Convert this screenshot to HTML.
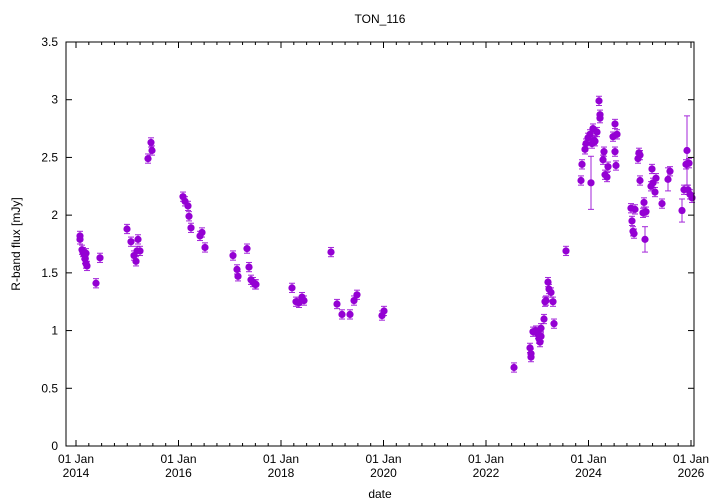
<!DOCTYPE html>
<html><head><meta charset="utf-8"><style>
body{margin:0;background:#fff;}
svg{display:block;font-family:"Liberation Sans",sans-serif;}
</style></head><body>
<svg id="s" width="720" height="504" xmlns="http://www.w3.org/2000/svg">
<rect width="720" height="504" fill="#fff"/>
<text x="380" y="23" font-size="12" text-anchor="middle">TON_116</text>
<text x="380" y="498" font-size="12" text-anchor="middle">date</text>
<text transform="translate(20,244) rotate(-90)" font-size="12" text-anchor="middle">R-band flux [mJy]</text>
<g id="ax"></g>
<g id="pts"></g>
<rect x="66" y="42" width="628" height="404" fill="none" stroke="#000" stroke-width="1"/>
</svg>
<script>
var ax=document.getElementById('ax'),pts=document.getElementById('pts'),h='';
var L=66,R=694,T=42,B=446;
function Y(v){return B-v*(B-T)/3.5;}
for(var i=0;i<=7;i++){var v=i*0.5,y=Y(v);
h+='<line x1="'+L+'" x2="'+(L+6)+'" y1="'+y+'" y2="'+y+'" stroke="#000"/>';
h+='<line x1="'+R+'" x2="'+(R-6)+'" y1="'+y+'" y2="'+y+'" stroke="#000"/>';
h+='<text x="'+(L-8)+'" y="'+(y+4)+'" font-size="12" text-anchor="end">'+(i==0?'0':(v%1==0?v:v.toFixed(1)))+'</text>';}
var x0=76,py=51.25;
for(var q=0;q<=48;q++){var x=x0+q*py/4,big=q%8==0,l=big?6:3;
h+='<line x1="'+x+'" x2="'+x+'" y1="'+B+'" y2="'+(B-l)+'" stroke="#000"/>';
h+='<line x1="'+x+'" x2="'+x+'" y1="'+T+'" y2="'+(T+l)+'" stroke="#000"/>';
if(big){h+='<text x="'+x+'" y="463" font-size="12" text-anchor="middle">01 Jan</text><text x="'+x+'" y="477" font-size="12" text-anchor="middle">'+(2014+q/4)+'</text>';}}
ax.innerHTML=h;
var d=[[80,1.82],[80,1.79],[82,1.70],[83,1.68],[84,1.66],[85,1.65],[86,1.67],[85,1.62],[86,1.58],[87,1.56],[96,1.41],[100,1.63],
[127,1.88],[131,1.77],[134,1.65],[136,1.60],[137,1.69],[138,1.79],[140,1.69],
[148,2.49],[151,2.63],[152,2.56],
[183,2.16],[185,2.12],[188,2.08],[189,1.99],[191,1.89],[200,1.82],[202,1.85],[205,1.72],
[233,1.65],[237,1.53],[238,1.47],[247,1.71],[249,1.55],[251,1.44],[253,1.42],[255,1.40],[256,1.40],
[292,1.37],[296,1.25],[299,1.24],[302,1.29],[304,1.26],
[331,1.68],[337,1.23],[342,1.14],[350,1.14],[354,1.26],[357,1.31],[382,1.13],[384,1.17],
[514,0.68],[530,0.85],[531,0.80],[531,0.77],[533,0.99],[536,1.00],[538,0.97],[539,0.93],[540,0.90],[541,0.95],[541,1.02],[544,1.10],[545,1.25],[546,1.26],[548,1.42],[549,1.36],[551,1.33],[553,1.25],[554,1.06],[566,1.69],
[581,2.30],[582,2.44],[585,2.57],[586,2.62],[588,2.67],[590,2.70],[591,2.28,0.23],[592,2.62],[593,2.75],[594,2.65],[595,2.64],[597,2.72],[599,2.99],[600,2.87],[600,2.84],[603,2.48],[604,2.55],[605,2.35],[607,2.33],[608,2.42],[613,2.68],[615,2.79],[615,2.55],[616,2.43],[617,2.70],
[631,2.06],[632,1.95],[633,1.86],[634,1.84],[635,2.05],[638,2.49],[639,2.54],[640,2.52],[640,2.30],[643,2.02],[644,2.11],[645,1.79,0.11],[646,2.03],[651,2.25],[652,2.40],[653,2.28],[655,2.20],[656,2.32],[662,2.10],[668,2.31,0.1],[670,2.38],[682,2.04,0.1],[684,2.22],[686,2.44],[687,2.56,0.3],[689,2.45],[688,2.22],[690,2.18],[692,2.15]];
var p='';
d.forEach(function(a){var x=a[0],y=Y(a[1]),e=(a[2]||0.04)*(B-T)/3.5;
p+='<g stroke="#9400d3" stroke-width="1" opacity="0.85"><line x1="'+x+'" x2="'+x+'" y1="'+(y-e)+'" y2="'+(y+e)+'"/><line x1="'+(x-3)+'" x2="'+(x+3)+'" y1="'+(y-e)+'" y2="'+(y-e)+'"/><line x1="'+(x-3)+'" x2="'+(x+3)+'" y1="'+(y+e)+'" y2="'+(y+e)+'"/></g>';
p+='<circle cx="'+x+'" cy="'+y+'" r="3.6" fill="#9400d3"/>';});
pts.innerHTML=p;
</script>
</body></html>
